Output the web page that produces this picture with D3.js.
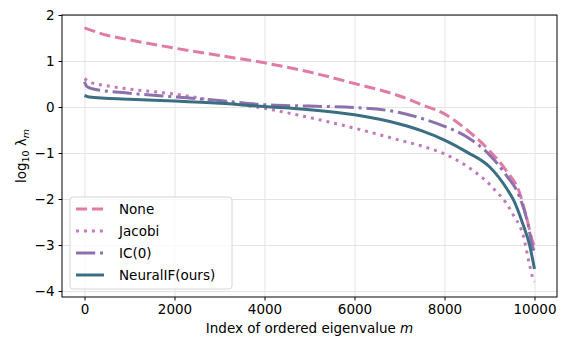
<!DOCTYPE html>
<html>
<head>
<meta charset="utf-8">
<script src="https://cdn.jsdelivr.net/npm/d3@7"></script>
<style>
  body { margin: 0; background: #fff; }
  text { font-family: "DejaVu Sans", sans-serif; }
</style>
</head>
<body>
<div id="chart"></div>
<script>
var width = 561,
    height = 337,
    margin = { top: 15, right: 4, bottom: 40, left: 62 };

// eigenvalue index and log10 of eigenvalue
var noneM    = [0, 500, 1000, 2000, 3000, 4000, 5000, 6000, 7000, 7500, 8000, 8500, 9000, 9370, 9670, 9820, 9950, 10000];
var noneV    = [1.72, 1.56, 1.46, 1.28, 1.12, 0.96, 0.76, 0.51, 0.24, 0.05, -0.15, -0.5, -0.95, -1.38, -1.87, -2.39, -2.9, -3.05];

var jacobiM  = [0, 100, 500, 1000, 2000, 3000, 4000, 5000, 6000, 7000, 7500, 8000, 8500, 9000, 9150, 9280, 9444, 9560, 9670, 9733, 9890, 9963, 10000];
var jacobiV  = [0.62, 0.55, 0.46, 0.39, 0.28, 0.12, -0.03, -0.23, -0.46, -0.72, -0.85, -1.02, -1.29, -1.68, -1.84, -1.97, -2.2, -2.4, -2.58, -2.74, -3.43, -3.72, -3.8];

var icM      = [0, 50, 200, 1000, 2000, 3000, 4000, 5000, 6000, 7000, 7500, 8000, 8500, 9000, 9370, 9650, 9850, 9960, 10000];
var icV      = [0.55, 0.45, 0.39, 0.3, 0.22, 0.14, 0.05, 0.02, -0.01, -0.12, -0.25, -0.42, -0.65, -1.04, -1.48, -1.91, -2.52, -3.05, -3.15];

var neuralM  = [0, 100, 1000, 2000, 3000, 4000, 5000, 6000, 7000, 7500, 8000, 8500, 9000, 9400, 9533, 9733, 9890, 10000];
var neuralV  = [0.25, 0.22, 0.17, 0.13, 0.08, 0.01, -0.06, -0.17, -0.37, -0.52, -0.72, -0.98, -1.3, -1.8, -2.02, -2.52, -3.0, -3.52];

var seriesNames = ["None", "Jacobi", "IC(0)", "NeuralIF(ours)"];
var xTicks = [0, 2000, 4000, 6000, 8000, 10000];
var yTicks = [-4, -3, -2, -1, 0, 1, 2];

var colors = ["#e07ba5", "#c47ab8", "#8b72ad", "#3c6e83"];
var dashes = ["11.1,4.8", "3,4.95", "19.2,4.8,3,4.8", null];

var series = [
    { name: seriesNames[0], m: noneM, v: noneV },
    { name: seriesNames[1], m: jacobiM, v: jacobiV },
    { name: seriesNames[2], m: icM, v: icV },
    { name: seriesNames[3], m: neuralM, v: neuralV }
];

var svg = d3.select("#chart")
    .append("svg")
    .attr("width", width)
    .attr("height", height);

var plotW = width - margin.left - margin.right,
    plotH = height - margin.top - margin.bottom;

var chart = svg.append("g")
    .attr("transform", "translate(" + margin.left + "," + margin.top + ")");

var xScale = d3.scaleLinear()
    .domain([-500, 10500])
    .range([0, plotW]);

var yScale = d3.scaleLinear()
    .domain([-4.13, 2])
    .range([plotH, 0]);

// gridlines
chart.append("g")
    .attr("class", "grid")
    .attr("transform", "translate(0," + plotH + ")")
    .call(d3.axisBottom(xScale).tickValues(xTicks).tickSize(-plotH).tickFormat(""))
    .call(function (g) { g.select(".domain").remove(); })
    .selectAll("line").attr("stroke", "#e3e3e3").attr("stroke-width", 1);

chart.append("g")
    .attr("class", "grid")
    .call(d3.axisLeft(yScale).tickValues(yTicks).tickSize(-plotW).tickFormat(""))
    .call(function (g) { g.select(".domain").remove(); })
    .selectAll("line").attr("stroke", "#e3e3e3").attr("stroke-width", 1);

// curves
var line = d3.line()
    .x(function (d) { return xScale(d[0]); })
    .y(function (d) { return yScale(d[1]); })
    .curve(d3.curveMonotoneX);

series.forEach(function (s, i) {
    var pts = s.m.map(function (m, j) { return [m, s.v[j]]; });
    chart.append("path")
        .datum(pts)
        .attr("fill", "none")
        .attr("stroke", colors[i])
        .attr("stroke-width", 3)
        .attr("stroke-dasharray", dashes[i])
        .attr("d", line);
});

// axes
var fmt = function (d) { return d < 0 ? "\u2212" + Math.abs(d) : d; };

var xAxis = chart.append("g")
    .attr("transform", "translate(0," + plotH + ")")
    .call(d3.axisBottom(xScale).tickValues(xTicks).tickFormat(d3.format("d")).tickSizeOuter(0).tickSize(3.5).tickPadding(4));
xAxis.select(".domain").remove();
xAxis.selectAll("text").attr("font-size", "13.5px").attr("fill", "#000").attr("font-family", "DejaVu Sans");

var yAxis = chart.append("g")
    .call(d3.axisLeft(yScale).tickValues(yTicks).tickFormat(fmt).tickSizeOuter(0).tickSize(3.5).tickPadding(4));
yAxis.select(".domain").remove();
yAxis.selectAll("text").attr("font-size", "13.5px").attr("fill", "#000").attr("font-family", "DejaVu Sans");

// frame
chart.append("rect")
    .attr("width", plotW)
    .attr("height", plotH)
    .attr("fill", "none")
    .attr("stroke", "#000")
    .attr("stroke-width", 1);

// axis labels
var xl = svg.append("text")
    .attr("x", margin.left + plotW / 2)
    .attr("y", 333)
    .attr("text-anchor", "middle")
    .attr("font-size", "13.5px");
xl.append("tspan").text("Index of ordered eigenvalue ");
xl.append("tspan").attr("font-style", "italic").text("m");

var yl = svg.append("text")
    .attr("transform", "translate(26," + (margin.top + plotH / 2) + ") rotate(-90)")
    .attr("text-anchor", "middle")
    .attr("font-size", "13.5px");
yl.append("tspan").text("log");
yl.append("tspan").attr("font-size", "9.5px").attr("dy", 3).text("10");
yl.append("tspan").attr("dy", -3).text(" \u03bb");
yl.append("tspan").attr("font-size", "9.5px").attr("font-style", "italic").attr("dy", 3).text("m");

// legend
var legend = svg.append("g").attr("transform", "translate(70,197)");
legend.append("rect")
    .attr("width", 162)
    .attr("height", 92)
    .attr("rx", 3)
    .attr("fill", "#fff")
    .attr("fill-opacity", 0.8)
    .attr("stroke", "#d6d6d6");

series.forEach(function (s, i) {
    var yy = 12 + i * 22;
    legend.append("line")
        .attr("x1", 6).attr("x2", 34)
        .attr("y1", yy).attr("y2", yy)
        .attr("stroke", colors[i])
        .attr("stroke-width", 3)
        .attr("stroke-dasharray", dashes[i]);
    legend.append("text")
        .attr("x", 49)
        .attr("y", yy + 5)
        .attr("font-size", "13.5px")
        .text(s.name);
});
</script>
</body>
</html>
